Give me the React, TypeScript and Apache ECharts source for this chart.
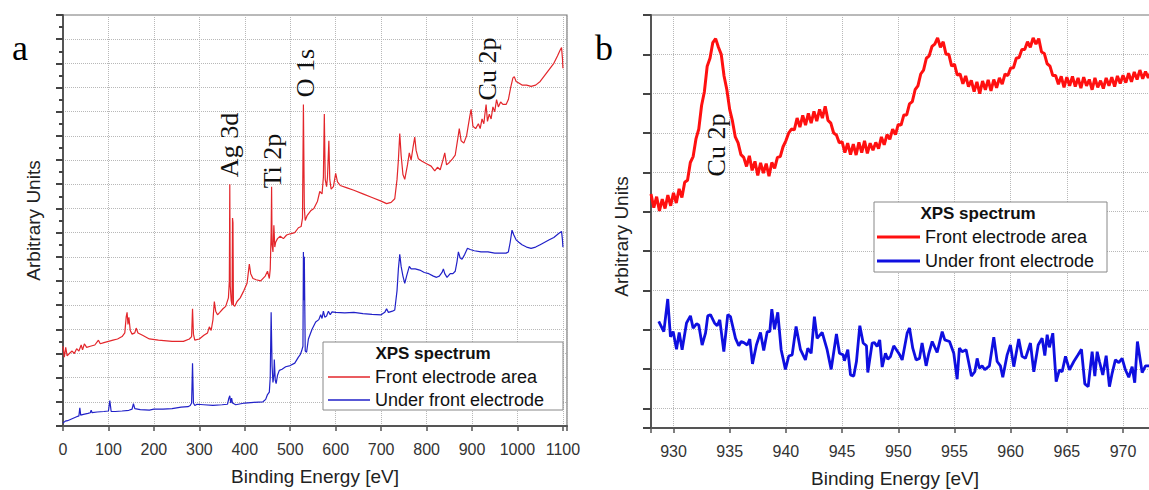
import React, { useEffect, useRef } from "react";
import * as echarts from "echarts";

const SANS = "'Liberation Sans', Arial, Helvetica, sans-serif";
const SERIF = "'Liberation Serif', 'Times New Roman', serif";

const seriesNames = ["Front electrode area", "Under front electrode"];
const legendTitle = "XPS spectrum";
const axisTitleX = "Binding Energy [eV]";
const axisTitleY = "Arbitrary Units";
const panelLetters = ["a", "b"];

const surveyTicks = [0, 100, 200, 300, 400, 500, 600, 700, 800, 900, 1000, 1100];
const detailTicks = [930, 935, 940, 945, 950, 955, 960, 965, 970];

const surveyPeakLabels = ["Ag 3d", "Ti 2p", "O 1s", "Cu 2p"];
const detailPeakLabels = ["Cu 2p"];

// Panel a: survey spectra [binding energy eV, arbitrary units]
const surveyFront: [number, number][] = [
  [0, 3.3], [3, 2.85], [6, 3.25], [9, 2.9], [14, 3.0], [20, 3.1], [25, 3.0], [30, 3.2], [35, 3.1],
  [40, 3.35], [43, 3.15], [47, 3.4], [52, 3.25], [60, 3.3], [70, 3.35], [78, 3.55], [82, 3.4],
  [90, 3.45], [100, 3.5], [110, 3.55], [120, 3.6], [130, 3.7], [136, 3.85], [139, 4.5], [141, 4.7],
  [143, 4.2], [145, 4.5], [148, 3.95], [152, 3.8], [158, 3.85], [161, 4.05], [165, 3.85], [175, 3.75],
  [190, 3.6], [210, 3.55], [240, 3.5], [265, 3.5], [278, 3.6], [283, 3.7], [285, 4.85], [287, 3.8],
  [290, 3.55], [300, 3.6], [310, 3.75], [318, 3.85], [322, 4.1], [326, 3.95], [330, 4.4], [333, 5.15],
  [336, 4.75], [340, 4.6], [345, 4.7], [352, 4.85], [358, 4.95], [364, 5.3], [366, 6.0], [367, 10.0],
  [368, 5.8], [370, 5.2], [372, 5.0], [373, 8.6], [374, 8.4], [375, 5.0], [378, 4.95], [383, 5.15],
  [390, 5.3], [398, 5.6], [405, 5.9], [410, 6.7], [413, 6.3], [418, 6.1], [425, 6.05], [435, 6.0],
  [445, 6.2], [450, 6.4], [454, 6.1], [456, 6.5], [458, 8.0], [459, 9.9], [460, 7.5], [462, 7.2],
  [464, 8.3], [466, 7.4], [468, 7.6], [472, 7.75], [478, 7.85], [485, 7.75], [492, 7.9], [500, 7.95],
  [510, 8.0], [518, 8.2], [524, 8.25], [527, 8.6], [529, 13.3], [531, 9.0], [533, 8.5], [537, 8.7],
  [545, 8.9], [552, 9.0], [560, 9.3], [565, 9.7], [570, 9.6], [573, 10.3], [575, 12.9], [577, 10.2],
  [580, 9.9], [582, 10.3], [585, 11.8], [587, 10.2], [590, 9.8], [595, 9.9], [600, 10.45], [604, 10.1],
  [610, 9.95], [625, 9.85], [640, 9.75], [660, 9.6], [680, 9.45], [700, 9.3], [712, 9.2], [722, 9.25],
  [730, 9.4], [735, 10.2], [738, 11.0], [741, 12.1], [744, 11.2], [748, 10.4], [752, 10.2], [758, 10.8],
  [762, 11.3], [766, 11.0], [770, 11.5], [774, 11.95], [777, 11.4], [782, 11.05], [790, 10.95],
  [800, 10.85], [810, 10.75], [818, 10.55], [824, 10.7], [830, 10.6], [836, 11.0], [840, 11.3],
  [844, 10.8], [850, 10.9], [857, 11.05], [863, 11.2], [868, 11.8], [872, 12.3], [876, 11.8],
  [882, 11.7], [888, 12.0], [895, 12.8], [898, 13.1], [902, 12.4], [908, 12.3], [914, 12.5],
  [918, 12.3], [922, 12.7], [926, 12.5], [929, 13.0], [931, 13.3], [934, 12.6], [938, 12.9],
  [942, 12.7], [946, 13.2], [950, 13.0], [954, 13.5], [958, 13.2], [963, 13.4], [968, 13.3],
  [975, 13.3], [980, 13.5], [985, 14.0], [990, 14.4], [993, 14.45], [997, 14.25], [1002, 14.2],
  [1010, 14.1], [1020, 14.1], [1030, 14.05], [1040, 14.1], [1050, 14.25], [1060, 14.5], [1070, 14.75],
  [1080, 15.0], [1088, 15.3], [1094, 15.55], [1097, 15.65], [1099, 15.2], [1100, 14.8],
];

const surveyUnder: [number, number][] = [
  [0, 0.12], [5, 0.2], [10, 0.22], [20, 0.3], [30, 0.38], [35, 0.42], [37, 0.75], [39, 0.45],
  [45, 0.48], [55, 0.52], [60, 0.55], [62, 0.65], [64, 0.55], [75, 0.58], [90, 0.6], [100, 0.62],
  [103, 1.05], [106, 0.6], [115, 0.6], [130, 0.62], [145, 0.65], [152, 0.7], [155, 0.92], [158, 0.72],
  [170, 0.68], [190, 0.66], [200, 0.7], [220, 0.7], [240, 0.72], [260, 0.78], [275, 0.8], [280, 0.85],
  [283, 0.95], [285, 2.6], [287, 0.95], [290, 0.85], [295, 0.9], [310, 0.88], [330, 0.85], [350, 0.88],
  [362, 0.9], [365, 1.15], [367, 1.25], [369, 0.95], [371, 1.15], [373, 0.95], [380, 0.88], [400, 0.95],
  [420, 0.98], [440, 1.0], [446, 1.1], [450, 1.3], [454, 1.4], [456, 2.0], [458, 4.7], [460, 2.5],
  [462, 1.8], [464, 2.1], [465, 2.75], [467, 1.9], [469, 1.75], [472, 2.1], [476, 2.3], [482, 2.35],
  [490, 2.45], [500, 2.5], [510, 2.6], [518, 2.85], [522, 2.95], [525, 3.1], [528, 3.3], [529, 7.2],
  [530, 5.2], [531, 7.0], [532, 5.0], [533, 3.1], [536, 3.05], [540, 3.6], [548, 4.0], [556, 4.3],
  [563, 4.4], [567, 4.6], [570, 4.45], [573, 4.75], [576, 4.5], [580, 4.55], [584, 4.75], [588, 4.6],
  [592, 4.72], [600, 4.7], [620, 4.68], [640, 4.7], [660, 4.65], [680, 4.62], [700, 4.6], [708, 4.7],
  [712, 4.85], [716, 4.7], [725, 4.75], [730, 4.8], [735, 5.6], [738, 6.5], [741, 7.1], [744, 6.6],
  [748, 6.2], [752, 5.9], [756, 6.2], [762, 6.6], [766, 6.5], [775, 6.5], [785, 6.45], [795, 6.35],
  [805, 6.3], [815, 6.2], [822, 6.15], [828, 6.2], [834, 6.35], [837, 6.5], [840, 6.3], [845, 6.15],
  [852, 6.3], [858, 6.3], [863, 6.4], [867, 6.8], [870, 7.2], [874, 6.95], [878, 6.9], [884, 7.1],
  [890, 7.35], [896, 7.3], [905, 7.25], [920, 7.2], [935, 7.2], [950, 7.15], [965, 7.15], [975, 7.15],
  [980, 7.2], [984, 7.6], [988, 8.1], [992, 7.9], [997, 7.7], [1003, 7.6], [1010, 7.5], [1020, 7.4],
  [1030, 7.35], [1040, 7.4], [1050, 7.5], [1060, 7.6], [1070, 7.7], [1080, 7.8], [1090, 7.95],
  [1097, 8.05], [1099, 7.7], [1100, 7.4],
];

// Panel b: Cu 2p region, front electrode area, sampled every 0.25 eV from 928.0 eV
const detailFrontStart = 928.0;
const detailFrontStep = 0.25;
const detailFront: number[] = [
  5.45, 5.10, 5.38, 5.02, // 928
  5.32, 5.08, 5.42, 5.15, // 929
  5.48, 5.22, 5.58, 5.36, // 930
  5.75, 5.80, 6.25, 6.40, // 931
  6.85, 7.10, 7.70, 8.05, // 932
  8.70, 8.90, 9.30, 9.40, // 933
  9.18, 9.00, 8.45, 8.10, // 934
  7.60, 7.30, 6.90, 6.75, // 935
  6.45, 6.38, 6.15, 6.42, // 936
  6.05, 6.28, 5.92, 6.24, // 937
  5.98, 6.22, 5.90, 6.25, // 938
  6.10, 6.38, 6.40, 6.65, // 939
  6.80, 7.00, 7.10, 7.08, // 940
  7.38, 7.15, 7.45, 7.20, // 941
  7.50, 7.25, 7.55, 7.30, // 942
  7.60, 7.38, 7.68, 7.32, // 943
  7.25, 7.00, 6.95, 6.75, // 944
  6.78, 6.50, 6.74, 6.45, // 945
  6.72, 6.44, 6.76, 6.50, // 946
  6.80, 6.48, 6.74, 6.56, // 947
  6.76, 6.60, 6.90, 6.70, // 948
  6.96, 6.84, 7.10, 6.96, // 949
  7.22, 7.20, 7.46, 7.46, // 950
  7.74, 7.80, 8.10, 8.20, // 951
  8.50, 8.60, 8.90, 8.96, // 952
  9.20, 9.26, 9.42, 9.18, // 953
  9.32, 9.00, 9.00, 8.70, // 954
  8.75, 8.47, 8.50, 8.25, // 955
  8.45, 8.18, 8.34, 8.05, // 956
  8.30, 8.00, 8.32, 8.10, // 957
  8.35, 8.07, 8.36, 8.15, // 958
  8.40, 8.24, 8.50, 8.46, // 959
  8.65, 8.66, 8.90, 8.92, // 960
  9.12, 9.12, 9.32, 9.18, // 961
  9.42, 9.26, 9.40, 9.06, // 962
  9.02, 8.76, 8.70, 8.46, // 963
  8.46, 8.24, 8.44, 8.16, // 964
  8.42, 8.20, 8.44, 8.18, // 965
  8.40, 8.14, 8.42, 8.20, // 966
  8.36, 8.10, 8.40, 8.16, // 967
  8.33, 8.13, 8.40, 8.20, // 968
  8.42, 8.18, 8.45, 8.26, // 969
  8.47, 8.28, 8.52, 8.30, // 970
  8.55, 8.36, 8.60, 8.38, // 971
  8.56, 8.40, 8.58, // 972
];

// Panel b: under front electrode [eV, arbitrary units]
const detailUnder: [number, number][] = [
  [928.69, 2.21], [929.14, 1.95], [929.49, 2.78], [929.73, 1.82], [929.97, 1.95], [930.27, 1.5],
  [930.51, 1.93], [930.77, 1.49], [931.16, 2.17], [931.51, 2.35], [931.75, 2.04], [932.05, 2.15],
  [932.25, 2.12], [932.55, 1.61], [932.85, 1.91], [933.05, 2.35], [933.29, 2.38], [933.65, 2.17],
  [933.89, 2.1], [934.12, 2.25], [934.48, 1.44], [934.83, 2.38], [935.07, 2.33], [935.52, 1.78],
  [935.81, 1.59], [936.02, 1.7], [936.26, 1.67], [936.56, 1.61], [936.79, 1.76], [937.03, 1.13],
  [937.38, 1.61], [937.74, 1.93], [938.03, 1.47], [938.34, 1.95], [938.57, 1.95], [938.75, 2.52],
  [938.99, 2.01], [939.28, 2.44], [939.58, 1.49], [939.96, 0.99], [940.26, 1.33], [940.56, 1.36],
  [940.91, 2.08], [941.3, 1.49], [941.74, 1.23], [941.95, 1.53], [942.25, 1.4], [942.54, 2.33],
  [942.78, 1.78], [943.23, 1.93], [943.67, 1.49], [944.03, 0.99], [944.5, 1.89], [944.77, 1.4],
  [945.1, 1.36], [945.21, 1.21], [945.51, 1.49], [945.75, 0.85], [946.04, 0.82], [946.28, 1.19],
  [946.58, 2.1], [946.88, 1.66], [947.17, 1.59], [947.29, 0.91], [947.68, 1.66], [947.88, 1.67],
  [948.12, 1.57], [948.35, 1.74], [948.57, 1.05], [948.86, 1.4], [949.07, 1.25], [949.31, 1.32],
  [949.6, 1.59], [950.13, 1.36], [950.35, 1.23], [950.79, 1.91], [951.0, 2.04], [951.29, 1.53],
  [951.59, 1.23], [951.89, 1.27], [952.12, 1.66], [952.48, 1.08], [952.72, 1.4], [953.02, 1.7],
  [953.46, 1.42], [953.91, 1.95], [954.14, 1.74], [954.56, 1.7], [954.94, 1.4], [955.24, 0.74],
  [955.44, 1.53], [955.68, 1.44], [956.04, 1.49], [956.51, 0.82], [956.81, 0.93], [957.02, 1.27],
  [957.22, 1.02], [957.46, 1.08], [957.7, 0.98], [958.11, 1.08], [958.5, 1.81], [958.8, 1.19],
  [959.09, 1.08], [959.3, 0.79], [959.69, 1.36], [959.98, 1.61], [960.28, 1.06], [960.72, 1.76],
  [961.02, 1.32], [961.32, 1.27], [961.76, 1.66], [962.06, 0.93], [962.45, 1.61], [962.8, 1.78],
  [963.04, 1.34], [963.25, 1.87], [963.45, 1.55], [963.75, 1.91], [964.05, 0.68], [964.34, 0.98],
  [964.58, 0.93], [964.88, 1.32], [965.23, 0.98], [965.62, 1.19], [966.0, 1.36], [966.3, 1.5],
  [966.6, 0.62], [966.9, 0.55], [967.25, 1.44], [967.49, 0.82], [967.7, 1.44], [967.9, 1.19],
  [968.2, 0.85], [968.5, 1.34], [968.79, 0.55], [969.03, 0.89], [969.32, 1.23], [969.62, 1.16],
  [969.92, 1.27], [970.21, 0.98], [970.51, 0.79], [970.81, 1.06], [971.04, 0.65], [971.28, 1.7],
  [971.7, 0.91], [972.0, 1.08], [972.35, 1.08],
];

const RED_A = "#e3262b";
const BLUE_A = "#2121c8";
const RED_B = "#ff1010";
const BLUE_B = "#0f0fe0";

export default function App() {
  const ref = useRef<HTMLDivElement>(null);

  useEffect(() => {
    document.body.style.margin = "0";
    if (!ref.current) return;
    const chart = echarts.init(ref.current, undefined, { renderer: "svg" });

    const detailFrontPairs = detailFront.map((v, i) => [detailFrontStart + i * detailFrontStep, v]);

    const gridLine = { show: true, lineStyle: { color: "#b8b8b8", width: 1, type: "dotted" } };
    const axisLine = { show: true, onZero: false, lineStyle: { color: "#555", width: 2 } };
    const tickLabel = (ticks: number[]) => ({
      show: true,
      margin: 15,
      color: "#333",
      fontSize: 16,
      fontFamily: SANS,
      formatter: (v: number) => (ticks.includes(Math.round(v * 1000) / 1000) ? String(v) : ""),
    });
    const axisName = { fontSize: 19, fontFamily: SANS, color: "#222" };
    const legendText = { fontSize: 18, fontFamily: SANS, color: "#111" };

    const option: any = {
      animation: false,
      backgroundColor: "#fff",
      grid: [
        { left: 63, top: 15, width: 504, height: 411, show: true, borderColor: "#777", borderWidth: 1.2, containLabel: false, outerBoundsMode: "none" },
        { left: 651, top: 15, width: 508, height: 413, show: true, borderColor: "#777", borderWidth: 1.2, containLabel: false, outerBoundsMode: "none" },
      ],
      xAxis: [
        {
          type: "value", gridIndex: 0, min: 0, max: 1109, interval: 100,
          name: axisTitleX, nameLocation: "middle", nameGap: 41, nameTextStyle: axisName,
          axisLine, axisTick: { show: true, inside: false, length: 5, lineStyle: { color: "#555", width: 1.5 } },
          axisLabel: tickLabel(surveyTicks), splitLine: gridLine,
        },
        {
          type: "value", gridIndex: 1, min: 928, max: 973.2, splitNumber: 9,
          name: axisTitleX, nameLocation: "middle", nameGap: 41,
          nameTextStyle: { ...axisName, padding: [0, 20, 0, 0] },
          axisLine, axisTick: { show: true, inside: false, length: 5, lineStyle: { color: "#555", width: 1.5 } },
          axisLabel: tickLabel(detailTicks), splitLine: gridLine,
        },
      ],
      yAxis: [
        {
          type: "value", gridIndex: 0, min: 0, max: 17, interval: 1,
          name: axisTitleY, nameLocation: "middle", nameGap: 20, nameTextStyle: axisName,
          axisLine, axisTick: { show: true, length: 7, lineStyle: { color: "#444", width: 2 } },
          minorTick: { show: true, splitNumber: 2, length: 4, lineStyle: { color: "#444", width: 2 } },
          axisLabel: { show: false }, splitLine: gridLine,
        },
        {
          type: "value", gridIndex: 1, min: -0.5, max: 10, splitNumber: 10,
          name: axisTitleY, nameLocation: "middle", nameGap: 20,
          nameTextStyle: { ...axisName, padding: [0, 30, 0, 0] },
          axisLine, axisTick: { show: true, length: 8, lineStyle: { color: "#444", width: 2 } },
          axisLabel: { show: false }, splitLine: gridLine,
        },
      ],
      legend: [
        {
          data: [
            { name: seriesNames[0], itemStyle: { color: RED_A } },
            { name: seriesNames[1], itemStyle: { color: BLUE_A } },
          ],
          orient: "vertical", left: 328, top: 368, padding: 0, icon: "rect",
          itemWidth: 42, itemHeight: 1.5, itemGap: 5, selectedMode: false,
          textStyle: legendText,
        },
        {
          data: [
            { name: seriesNames[0], itemStyle: { color: RED_B } },
            { name: seriesNames[1], itemStyle: { color: BLUE_B } },
          ],
          orient: "vertical", left: 877, top: 228, padding: 0, icon: "rect",
          itemWidth: 43, itemHeight: 3, itemGap: 6, selectedMode: false,
          textStyle: legendText,
        },
      ],
      series: [
        { name: seriesNames[0], type: "line", xAxisIndex: 0, yAxisIndex: 0, data: surveyFront, showSymbol: false, symbol: "none", lineStyle: { color: RED_A, width: 1.2 }, itemStyle: { color: RED_A } },
        { name: seriesNames[1], type: "line", xAxisIndex: 0, yAxisIndex: 0, data: surveyUnder, showSymbol: false, symbol: "none", lineStyle: { color: BLUE_A, width: 1.2 }, itemStyle: { color: BLUE_A } },
        { name: seriesNames[0], type: "line", xAxisIndex: 1, yAxisIndex: 1, data: detailFrontPairs, showSymbol: false, symbol: "none", lineStyle: { color: RED_B, width: 3 }, itemStyle: { color: RED_B } },
        { name: seriesNames[1], type: "line", xAxisIndex: 1, yAxisIndex: 1, data: detailUnder, showSymbol: false, symbol: "none", lineStyle: { color: BLUE_B, width: 2.8 }, itemStyle: { color: BLUE_B } },
      ],
      graphic: [
        { type: "rect", z: 3, shape: { x: 323, y: 342, width: 240, height: 68 }, style: { fill: "#fff", stroke: "#888", lineWidth: 1 } },
        { type: "text", z: 5, x: 433, y: 353, style: { text: legendTitle, fontSize: 17, fontWeight: "bold", fontFamily: SANS, fill: "#111", align: "center", verticalAlign: "middle" } },
        { type: "rect", z: 3, shape: { x: 874, y: 202, width: 233, height: 70 }, style: { fill: "#fff", stroke: "#888", lineWidth: 1 } },
        { type: "text", z: 5, x: 978, y: 213, style: { text: legendTitle, fontSize: 17, fontWeight: "bold", fontFamily: SANS, fill: "#111", align: "center", verticalAlign: "middle" } },
        { type: "text", z: 5, x: 20, y: 66, style: { text: panelLetters[0], fontSize: 36, fontFamily: SERIF, fill: "#000", align: "center", verticalAlign: "bottom" } },
        { type: "text", z: 5, x: 604, y: 66, style: { text: panelLetters[1], fontSize: 36, fontFamily: SERIF, fill: "#000", align: "center", verticalAlign: "bottom" } },
        { type: "text", z: 5, x: 229, y: 145, rotation: Math.PI / 2, style: { text: surveyPeakLabels[0], fontSize: 26, fontFamily: SERIF, fill: "#111", align: "center", verticalAlign: "middle" } },
        { type: "text", z: 5, x: 272, y: 161, rotation: Math.PI / 2, style: { text: surveyPeakLabels[1], fontSize: 26, fontFamily: SERIF, fill: "#111", align: "center", verticalAlign: "middle" } },
        { type: "text", z: 5, x: 305, y: 73, rotation: Math.PI / 2, style: { text: surveyPeakLabels[2], fontSize: 26, fontFamily: SERIF, fill: "#111", align: "center", verticalAlign: "middle" } },
        { type: "text", z: 5, x: 487, y: 69, rotation: Math.PI / 2, style: { text: surveyPeakLabels[3], fontSize: 26, fontFamily: SERIF, fill: "#111", align: "center", verticalAlign: "middle" } },
        { type: "text", z: 5, x: 716, y: 145, rotation: Math.PI / 2, style: { text: detailPeakLabels[0], fontSize: 26, fontFamily: SERIF, fill: "#111", align: "center", verticalAlign: "middle" } },
      ],
    };

    chart.setOption(option);
    return () => chart.dispose();
  }, []);

  return <div ref={ref} style={{ width: 1149, height: 490 }} />;
}
